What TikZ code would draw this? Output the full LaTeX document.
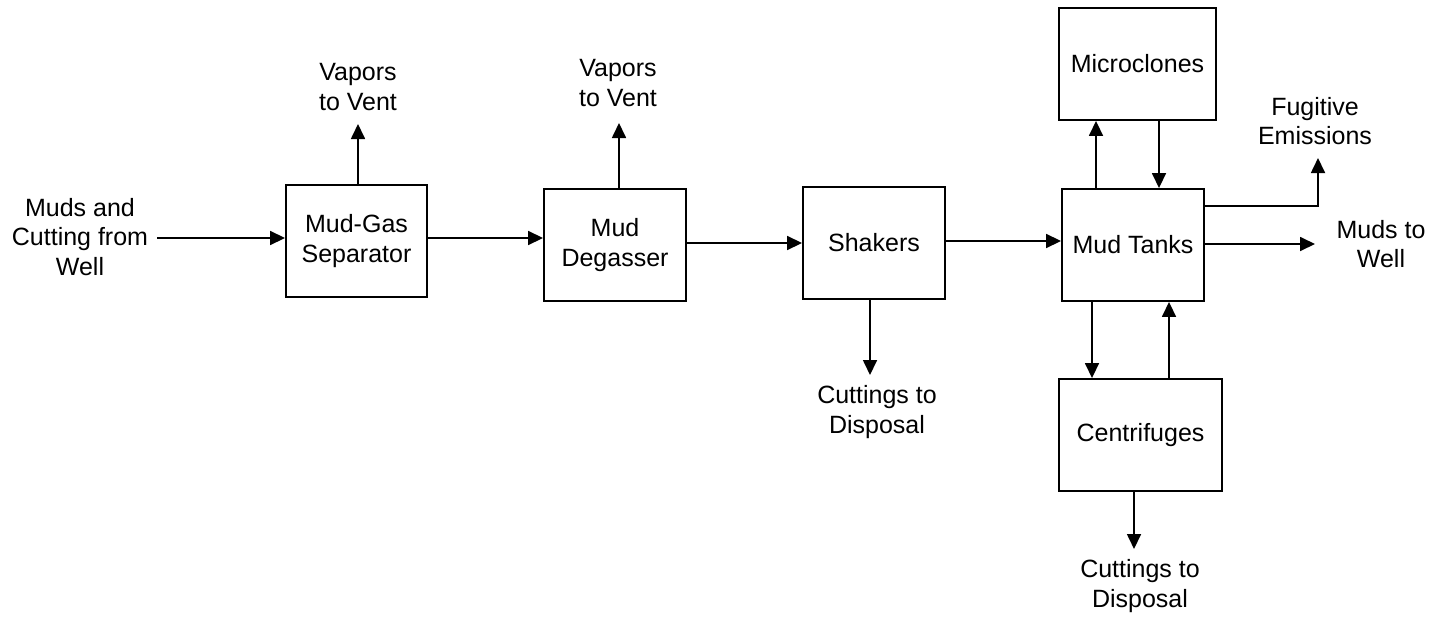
\documentclass[tikz,border=0pt]{standalone}
\usepackage{fontspec}
\setmainfont{Liberation Sans}
\usetikzlibrary{arrows.meta}
\newcommand\dfont{\fontsize{25}{29.5}\selectfont}
\begin{document}
\begin{tikzpicture}[x=1pt,y=-1pt,
  box/.style={draw,line width=1.9pt,minimum height=112pt,inner sep=0pt,align=center,font=\dfont},
  lab/.style={align=center,font=\dfont,inner sep=2pt},
  arr/.style={line width=1.7pt,-{Triangle[length=15pt,width=14pt]}},
  ln/.style={line width=1.7pt}]
\useasboundingbox (0,0) rectangle (1431,618);
% process boxes
\node[box,minimum width=141pt] (mgs) at (356.5,241) {Mud-Gas\\Separator};
\node[box,minimum width=142pt] (md) at (615,245) {Mud\\Degasser};
\node[box,minimum width=142pt] (sh) at (874,243) {Shakers};
\node[box,minimum width=142pt] (mt) at (1133,245) {Mud Tanks};
\node[box,minimum width=157pt] (mc) at (1137.5,64) {Microclones};
\node[box,minimum width=163pt] (cf) at (1140.5,435) {Centrifuges};
% labels
\node[lab] (in) at (80,237) {Muds and\\Cutting from\\Well};
\node[lab] (v1) at (358,87) {Vapors\\to Vent};
\node[lab] (v2) at (618,83) {Vapors\\to Vent};
\node[lab] (c1) at (877,412) {Cuttings to\\Disposal};
\node[lab] (c2) at (1140,586) {Cuttings to\\Disposal};
\node[lab] (fe) at (1315,121) {Fugitive\\Emissions};
\node[lab] (mw) at (1381,244) {Muds to\\Well};
% free ends
\coordinate (a0) at (157,238);
\coordinate (v1a) at (358,124);
\coordinate (v2a) at (619,123);
\coordinate (fa) at (1318,158);
\coordinate (mwa) at (1315,244);
\coordinate (c1a) at (870,375);
\coordinate (c2a) at (1134,549);
% main line
\draw[arr] (a0) -- (a0 -| mgs.west);
\draw[arr] (mgs.east |- 0,238) -- (md.west |- 0,238);
\draw[arr] (md.east |- 0,243) -- (sh.west |- 0,243);
\draw[arr] (sh.east |- 0,241) -- (mt.west |- 0,241);
% vents
\draw[arr] (v1a |- mgs.north) -- (v1a);
\draw[arr] (v2a |- md.north) -- (v2a);
% microclones loop
\draw[arr] (mt.north -| 1096,0) -- (mc.south -| 1096,0);
\draw[arr] (mc.south -| 1159,0) -- (mt.north -| 1159,0);
% fugitive and muds to well
\draw[arr] (mt.east |- 0,206) -| (fa);
\draw[arr] (mt.east |- mwa) -- (mwa);
% centrifuges loop
\draw[arr] (mt.south -| 1092,0) -- (cf.north -| 1092,0);
\draw[arr] (cf.north -| 1169,0) -- (mt.south -| 1169,0);
% cuttings
\draw[arr] (c1a |- sh.south) -- (c1a);
\draw[arr] (c2a |- cf.south) -- (c2a);
\end{tikzpicture}
\end{document}
